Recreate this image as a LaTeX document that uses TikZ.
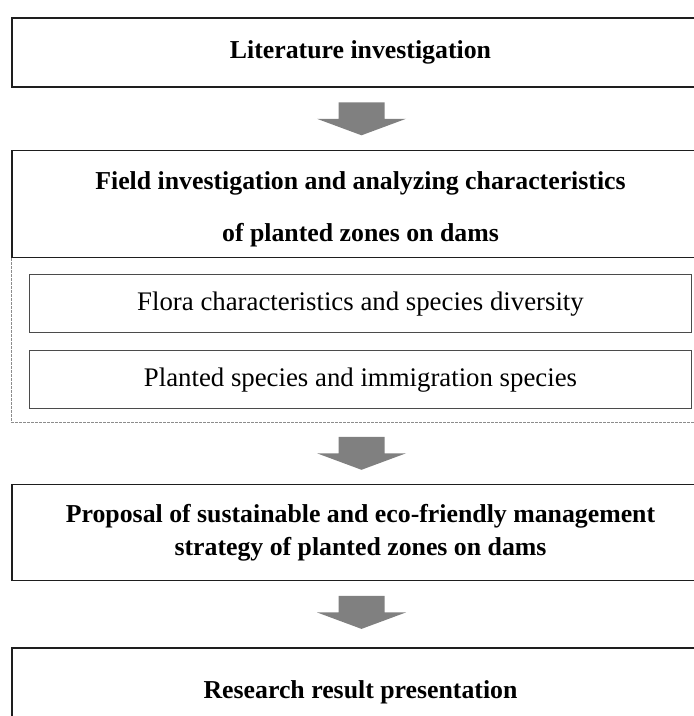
\documentclass[tikz,border=0pt]{standalone}
\usepackage{fontspec}
\setmainfont{Liberation Serif}
\usepackage{tikz}
\usetikzlibrary{positioning,calc}
\definecolor{arrowgray}{RGB}{128,128,128}
\definecolor{linedark}{RGB}{30,30,30}
\definecolor{zonegray}{RGB}{140,140,140}
\tikzset{
x=1pt,y=1pt,
node distance=62pt,
mainbox/.style={draw=linedark,line width=1.6pt,rectangle,minimum width=697pt,inner sep=0pt,align=center,font=\fontsize{25.8}{29}\selectfont\bfseries},
subbox/.style={draw=linedark!80,line width=1pt,rectangle,minimum width=662pt,minimum height=58pt,inner sep=0pt,font=\fontsize{26.8}{30}\selectfont},
zonebox/.style={rectangle,minimum width=697pt,inner sep=0pt},
zoneline/.style={draw=zonegray,line width=0.8pt,dash pattern=on 2.5pt off 1.5pt},
downarrow/.pic={\fill[arrowgray] (-23,16.5) -- (23,16.5) -- (23,0) -- (44.5,0) -- (0,-16.5) -- (-44.5,0) -- (-23,0) -- cycle;}
}
\begin{document}
\begin{tikzpicture}
\clip (0,0) rectangle (694,-716);
\useasboundingbox (0,0) rectangle (694,-716);
\node[mainbox,minimum height=69pt] (lit) at (360.5,-52.5) {Literature investigation};
\node[mainbox,minimum height=107pt,below=of lit] (field) {\rule{0pt}{29pt}Field investigation and analyzing characteristics\\[23pt] of planted zones on dams};
\node[zonebox,minimum height=164pt,below=0pt of field] (zone) {};
\draw[zoneline] (zone.north west) |- (zone.south east) -- (zone.north east);
\node[subbox,below=16pt of field] (flora) {Flora characteristics and species diversity};
\node[subbox,below=17pt of flora] (planted) {Planted species and immigration species};
\node[mainbox,minimum height=96pt,below=61pt of zone] (proposal) {Proposal of sustainable and eco-friendly management\\[4pt] strategy of planted zones on dams};
\node[mainbox,minimum height=88pt,below=66pt of proposal] (result) {Research result presentation};
\pic at ($(lit.south)!0.5!(field.north)+(1,0)$) {downarrow};
\pic at ($(zone.south)!0.5!(proposal.north)+(1,0)$) {downarrow};
\pic at ($(proposal.south)!0.5!(result.north)+(1,2)$) {downarrow};
\end{tikzpicture}
\end{document}
